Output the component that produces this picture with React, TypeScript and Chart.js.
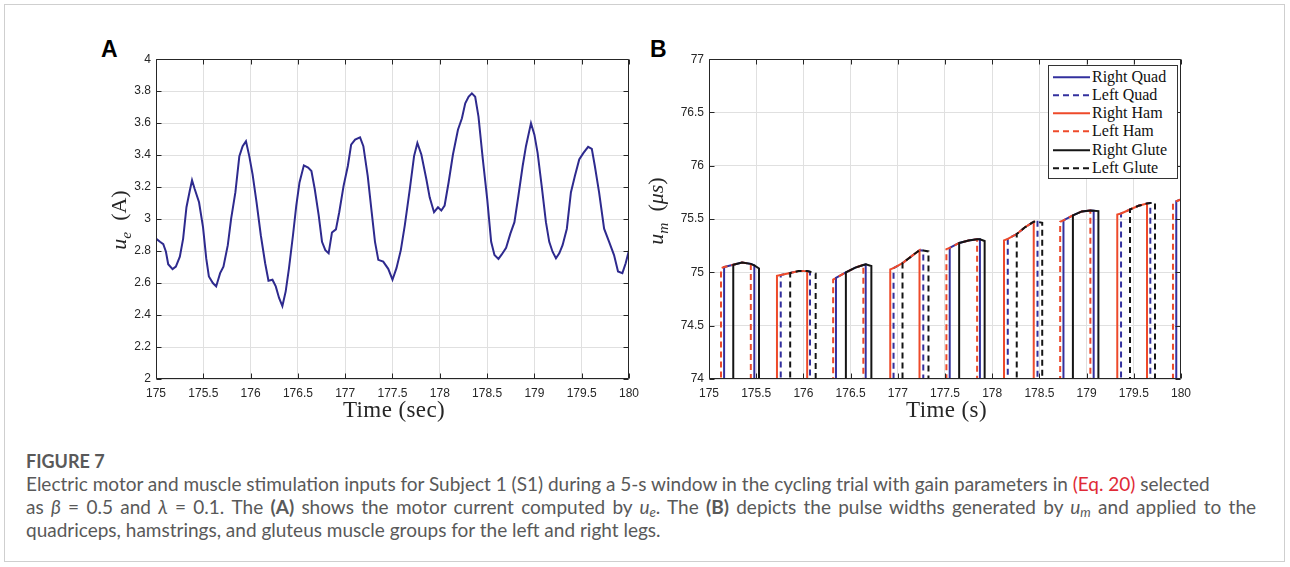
import React, { useEffect, useRef } from "react";
import { Chart, registerables } from "chart.js";

Chart.register(...registerables);

// ---------------- Panel A data: motor current u_e (A) ----------------
const timeA = [
  175.0, 175.042, 175.077, 175.105, 175.129, 175.175, 175.21, 175.252, 175.287, 175.322,
  175.357, 175.381, 175.409, 175.455, 175.497, 175.531, 175.559, 175.601, 175.636, 175.678,
  175.713, 175.759, 175.794, 175.839, 175.881, 175.916, 175.951, 175.986, 176.021, 176.063,
  176.108, 176.154, 176.189, 176.231, 176.266, 176.301, 176.336, 176.371, 176.406, 176.448,
  176.483, 176.517, 176.563, 176.608, 176.643, 176.678, 176.72, 176.755, 176.79, 176.825,
  176.86, 176.902, 176.937, 176.983, 177.028, 177.063, 177.105, 177.157, 177.192, 177.238,
  177.28, 177.315, 177.35, 177.402, 177.455, 177.5, 177.542, 177.588, 177.63, 177.683,
  177.728, 177.763, 177.805, 177.858, 177.893, 177.939, 177.981, 178.016, 178.051, 178.093,
  178.139, 178.192, 178.234, 178.269, 178.304, 178.339, 178.374, 178.409, 178.455, 178.501,
  178.543, 178.578, 178.62, 178.655, 178.701, 178.746, 178.789, 178.831, 178.876, 178.911,
  178.964, 179.0, 179.034, 179.077, 179.122, 179.157, 179.192, 179.228, 179.263, 179.298,
  179.343, 179.386, 179.428, 179.474, 179.519, 179.568, 179.607, 179.639, 179.684, 179.737,
  179.79, 179.842, 179.884, 179.93, 179.965, 180.0,
];
const currentA = [
  2.878, 2.858, 2.843, 2.796, 2.718, 2.687, 2.703, 2.765, 2.878, 3.074,
  3.177, 3.243, 3.188, 3.105, 2.95, 2.754, 2.641, 2.6, 2.579, 2.662,
  2.703, 2.837, 3.002, 3.167, 3.394, 3.456, 3.487, 3.394, 3.28, 3.105,
  2.899, 2.724, 2.615, 2.621, 2.579, 2.507, 2.456, 2.548, 2.693, 2.899,
  3.085, 3.229, 3.336, 3.322, 3.301, 3.188, 3.023, 2.858, 2.806, 2.786,
  2.916, 2.936, 3.043, 3.208, 3.332, 3.466, 3.497, 3.511, 3.456, 3.27,
  3.043, 2.858, 2.745, 2.734, 2.689, 2.621, 2.693, 2.806, 2.961, 3.188,
  3.394, 3.476, 3.404, 3.249, 3.136, 3.043, 3.074, 3.054, 3.085, 3.229,
  3.404, 3.559, 3.631, 3.724, 3.765, 3.786, 3.765, 3.641, 3.373, 3.126,
  2.858, 2.775, 2.751, 2.779, 2.821, 2.909, 2.981, 3.146, 3.332, 3.456,
  3.6, 3.528, 3.414, 3.208, 2.981, 2.858, 2.796, 2.755, 2.786, 2.837,
  2.94, 3.167, 3.27, 3.373, 3.414, 3.452, 3.439, 3.332, 3.167, 2.94,
  2.858, 2.775, 2.672, 2.662, 2.724, 2.806,
];

// ---------------- Ticks ----------------
const xTickValues = [175, 175.5, 176, 176.5, 177, 177.5, 178, 178.5, 179, 179.5, 180];
const xTickLabels = ["175", "175.5", "176", "176.5", "177", "177.5", "178", "178.5", "179", "179.5", "180"];
const yTickValuesA = [2, 2.2, 2.4, 2.6, 2.8, 3, 3.2, 3.4, 3.6, 3.8, 4];
const yTickLabelsA = ["2", "2.2", "2.4", "2.6", "2.8", "3", "3.2", "3.4", "3.6", "3.8", "4"];
const yTickValuesB = [74, 74.5, 75, 75.5, 76, 76.5, 77];
const yTickLabelsB = ["74", "74.5", "75", "75.5", "76", "76.5", "77"];

// ---------------- Panel B data: pulse width u_m (us) ----------------
const umTimes = [
  175.127, 175.16, 175.257, 175.35, 175.443, 175.48, 175.53,
  175.72, 175.76, 175.86, 175.95, 176.04, 176.07, 176.13,
  176.315, 176.345, 176.45, 176.55, 176.635, 176.66, 176.72,
  176.92, 176.955, 177.05, 177.15, 177.23, 177.27, 177.325,
  177.515, 177.55, 177.65, 177.75, 177.84, 177.87, 177.92,
  178.125, 178.165, 178.26, 178.35, 178.44, 178.48, 178.53,
  178.72, 178.755, 178.855, 178.95, 179.04, 179.075, 179.125,
  179.325, 179.365, 179.46, 179.55, 179.64, 179.675, 179.725,
  179.915, 179.95, 180.0,
];
const umValues = [
  75.04, 75.05, 75.072, 75.092, 75.08, 75.066, 75.037,
  74.969, 74.976, 74.994, 75.014, 75.012, 75.006, 74.99,
  74.932, 74.948, 75.0, 75.045, 75.07, 75.075, 75.06,
  75.028, 75.04, 75.087, 75.155, 75.208, 75.205, 75.197,
  75.218, 75.23, 75.276, 75.3, 75.31, 75.31, 75.295,
  75.3, 75.315, 75.36, 75.425, 75.475, 75.475, 75.465,
  75.475, 75.488, 75.535, 75.572, 75.58, 75.579, 75.575,
  75.544, 75.553, 75.59, 75.625, 75.646, 75.65, 75.65,
  75.65, 75.668, 75.684,
];
const stimOff = 0;

const rightQuadOn = [[175.16, 175.48], [176.345, 176.66], [177.55, 177.87], [178.755, 179.075], [179.95, 180.2]];
const leftQuadOn = [[175.76, 176.07], [176.955, 177.27], [178.165, 178.48], [179.365, 179.675]];
const rightHamOn = [[175.72, 176.04], [176.92, 177.23], [178.125, 178.44], [179.325, 179.64]];
const leftHamOn = [[175.127, 175.443], [176.315, 176.635], [177.515, 177.84], [178.72, 179.04], [179.915, 180.2]];
const rightGluteOn = [[175.257, 175.53], [176.45, 176.72], [177.65, 177.92], [178.855, 179.125]];
const leftGluteOn = [[175.86, 176.13], [177.05, 177.325], [178.26, 178.53], [179.46, 179.725]];

const legendLabels = ["Right Quad", "Left Quad", "Right Ham", "Left Ham", "Right Glute", "Left Glute"];

// ---------------- Styles ----------------
const BLUE = "#33309e";
const RED = "#ee4a2a";
const BLACK = "#141414";
const LINE_A = "#2e2a8e";
const AXIS = "#262626";
const GRID = "#e0e0e0";
const DASH = [6, 4];

const seriesB = [
  { label: legendLabels[0], on: rightQuadOn, color: BLUE, dashed: false },
  { label: legendLabels[1], on: leftQuadOn, color: BLUE, dashed: true },
  { label: legendLabels[2], on: rightHamOn, color: RED, dashed: false },
  { label: legendLabels[3], on: leftHamOn, color: RED, dashed: true },
  { label: legendLabels[4], on: rightGluteOn, color: BLACK, dashed: false },
  { label: legendLabels[5], on: leftGluteOn, color: BLACK, dashed: true },
];

function pulseTrain(intervals: number[][]) {
  const pts: { x: number; y: number }[] = [];
  for (const [s, e] of intervals) {
    pts.push({ x: s, y: stimOff });
    umTimes.forEach((t, i) => {
      if (t >= s - 1e-9 && t <= e + 1e-9) pts.push({ x: t, y: umValues[i] });
    });
    pts.push({ x: e, y: stimOff });
  }
  return pts;
}

const boxPlugin = {
  id: "matlabBox",
  afterDraw(chart: any) {
    const { ctx, chartArea: a, scales } = chart;
    const L = 5;
    ctx.save();
    ctx.strokeStyle = AXIS;
    ctx.lineWidth = 1;
    const l = Math.round(a.left) + 0.5;
    const r = Math.round(a.right) - 0.5;
    const t = Math.round(a.top) + 0.5;
    const b = Math.round(a.bottom) - 0.5;
    ctx.beginPath();
    ctx.rect(l, t, r - l, b - t);
    scales.x.ticks.forEach((tk: any) => {
      const px = Math.round(scales.x.getPixelForValue(tk.value)) + 0.5;
      ctx.moveTo(px, b);
      ctx.lineTo(px, b - L);
      ctx.moveTo(px, t);
      ctx.lineTo(px, t + L);
    });
    scales.y.ticks.forEach((tk: any) => {
      const py = Math.round(scales.y.getPixelForValue(tk.value)) + 0.5;
      ctx.moveTo(l, py);
      ctx.lineTo(l + L, py);
      ctx.moveTo(r, py);
      ctx.lineTo(r - L, py);
    });
    ctx.stroke();
    ctx.restore();
  },
};

function scalesFor(yMin: number, yMax: number, yVals: number[], yLabels: string[]) {
  const tickFont = { family: '"Liberation Sans", Arial, sans-serif', size: 12 };
  return {
    x: {
      type: "linear",
      min: 175,
      max: 180,
      afterBuildTicks: (s: any) => {
        s.ticks = xTickValues.map((v) => ({ value: v }));
      },
      afterFit: (s: any) => {
        s.height = 30;
      },
      grid: { color: GRID, drawTicks: false, lineWidth: 1 },
      border: { display: false },
      ticks: {
        autoSkip: false,
        maxRotation: 0,
        padding: 7,
        color: AXIS,
        font: tickFont,
        callback: (_v: any, i: number) => xTickLabels[i],
      },
    },
    y: {
      type: "linear",
      min: yMin,
      max: yMax,
      afterBuildTicks: (s: any) => {
        s.ticks = yVals.map((v) => ({ value: v }));
      },
      afterFit: (s: any) => {
        s.width = 60;
      },
      grid: { color: GRID, drawTicks: false, lineWidth: 1 },
      border: { display: false },
      ticks: {
        autoSkip: false,
        padding: 5,
        color: AXIS,
        font: tickFont,
        callback: (_v: any, i: number) => yLabels[i],
      },
    },
  };
}

function makeConfigA(): any {
  return {
    type: "line",
    data: {
      datasets: [
        {
          label: "u_e",
          data: timeA.map((t, i) => ({ x: t, y: currentA[i] })),
          borderColor: LINE_A,
          borderWidth: 2,
          pointRadius: 0,
          tension: 0,
          fill: false,
          clip: 0,
        },
      ],
    },
    options: {
      responsive: false,
      animation: false,
      layout: { padding: { left: 0, right: 14, top: 10, bottom: 0 } },
      plugins: { legend: { display: false }, tooltip: { enabled: false } },
      scales: scalesFor(2, 4, yTickValuesA, yTickLabelsA),
    },
    plugins: [boxPlugin],
  };
}

function makeConfigB(): any {
  return {
    type: "line",
    data: {
      datasets: seriesB.map((s, i) => ({
        label: s.label,
        data: pulseTrain(s.on),
        borderColor: s.color,
        borderWidth: 2,
        borderDash: s.dashed ? DASH : [],
        pointRadius: 0,
        tension: 0,
        fill: false,
        clip: 0,
        order: seriesB.length - i,
      })),
    },
    options: {
      responsive: false,
      animation: false,
      layout: { padding: { left: 0, right: 14, top: 10, bottom: 0 } },
      plugins: { legend: { display: false }, tooltip: { enabled: false } },
      scales: scalesFor(74, 77, yTickValuesB, yTickLabelsB),
    },
    plugins: [boxPlugin],
  };
}

function ChartCanvas(props: { make: () => any; left: number; top: number; width: number; height: number }) {
  const ref = useRef<HTMLCanvasElement | null>(null);
  useEffect(() => {
    if (!ref.current) return;
    const c = new Chart(ref.current, props.make());
    return () => c.destroy();
  }, []);
  return (
    <canvas
      ref={ref}
      width={props.width}
      height={props.height}
      style={{ position: "absolute", left: props.left, top: props.top, width: props.width, height: props.height }}
    />
  );
}

const serif = '"Liberation Serif", "Times New Roman", serif';
const subStyle: React.CSSProperties = { fontSize: "0.7em", verticalAlign: "-0.3em", lineHeight: 0 };

function LegendB() {
  const rowH = 18.3;
  return (
    <div
      style={{
        position: "absolute",
        left: 1048,
        top: 65,
        width: 130,
        height: 114,
        boxSizing: "border-box",
        border: "1px solid #333",
        background: "#fff",
      }}
    >
      {seriesB.map((s, i) => (
        <div key={s.label} style={{ position: "absolute", left: 0, top: 1.5 + i * rowH, height: rowH, width: 128 }}>
          <svg width={38} height={rowH} style={{ position: "absolute", left: 4, top: 0 }}>
            <line
              x1={0}
              x2={37}
              y1={rowH / 2}
              y2={rowH / 2}
              stroke={s.color}
              strokeWidth={2}
              strokeDasharray={s.dashed ? "6 4" : undefined}
            />
          </svg>
          <span
            style={{
              position: "absolute",
              left: 43,
              top: 0,
              lineHeight: rowH + "px",
              fontFamily: serif,
              fontSize: 16,
              color: "#111",
              whiteSpace: "nowrap",
            }}
          >
            {s.label}
          </span>
        </div>
      ))}
    </div>
  );
}

export default function App() {
  const cap: React.CSSProperties = {
    position: "absolute",
    left: 26,
    fontFamily: "Lato, sans-serif",
    fontSize: 19,
    lineHeight: "23px",
    color: "#595959",
    whiteSpace: "nowrap",
  };
  const axTitle: React.CSSProperties = {
    position: "absolute",
    top: 396,
    textAlign: "center",
    fontFamily: serif,
    fontSize: 23,
    letterSpacing: 0.4,
    lineHeight: "28px",
    color: AXIS,
  };
  const yTitle: React.CSSProperties = {
    position: "absolute",
    width: 200,
    height: 28,
    lineHeight: "28px",
    textAlign: "center",
    transform: "rotate(-90deg)",
    fontFamily: serif,
    fontSize: 22,
    color: AXIS,
    whiteSpace: "nowrap",
  };
  const panelLabel: React.CSSProperties = {
    position: "absolute",
    top: 38,
    fontFamily: '"Liberation Sans", Arial',
    fontWeight: 700,
    fontSize: 23,
    lineHeight: "23px",
    color: "#000",
  };
  return (
    <div style={{ position: "absolute", left: 0, top: 0, width: 1290, height: 567, background: "#fff", overflow: "hidden" }}>
      <div
        style={{
          position: "absolute",
          left: 4,
          top: 4,
          width: 1281,
          height: 558,
          border: "1px solid #cfcfcf",
          boxSizing: "border-box",
        }}
      />
      {/* Panel labels */}
      <div style={{ ...panelLabel, left: 101 }}>A</div>
      <div style={{ ...panelLabel, left: 650 }}>B</div>

      <ChartCanvas make={makeConfigA} left={96} top={47} width={550} height={362} />
      <ChartCanvas make={makeConfigB} left={649} top={47} width={549} height={362} />

      {/* Axis titles */}
      <div style={{ ...axTitle, left: 156, width: 476 }}>Time (sec)</div>
      <div style={{ ...axTitle, left: 709, width: 475 }}>Time (s)</div>
      <div style={{ ...yTitle, left: 19, top: 206 }}>
        <i>u</i>
        <sub style={subStyle}>
          <i>e</i>
        </sub>
        {"\u2002(A)"}
      </div>
      <div style={{ ...yTitle, left: 556, top: 197 }}>
        <i>u</i>
        <sub style={subStyle}>
          <i>m</i>
        </sub>
        {"\u2002("}
        <i>μs</i>
        {")"}
      </div>

      <LegendB />

      {/* Caption */}
      <div style={{ ...cap, top: 450, fontWeight: 700, fontSize: 18 }}>FIGURE 7</div>
      <div style={{ ...cap, top: 472 }}>
        Electric motor and muscle stimulation inputs for Subject 1 (S1) during a 5-s window in the cycling trial with gain parameters in{" "}
        <span style={{ color: "#e02a36" }}>(Eq. 20)</span> selected
      </div>
      <div style={{ ...cap, top: 495, width: 1230, whiteSpace: "normal", textAlign: "justify", textAlignLast: "justify" }}>
        as <i>β</i> = 0.5 and <i>λ</i> = 0.1. The <b>(A)</b> shows the motor current computed by <i>u</i>
        <sub style={{ fontSize: "0.7em", verticalAlign: "-0.25em", lineHeight: 0 }}>
          <i>e</i>
        </sub>
        . The <b>(B)</b> depicts the pulse widths generated by <i>u</i>
        <sub style={{ fontSize: "0.7em", verticalAlign: "-0.25em", lineHeight: 0 }}>
          <i>m</i>
        </sub>{" "}
        and applied to the
      </div>
      <div style={{ ...cap, top: 518 }}>quadriceps, hamstrings, and gluteus muscle groups for the left and right legs.</div>
    </div>
  );
}
